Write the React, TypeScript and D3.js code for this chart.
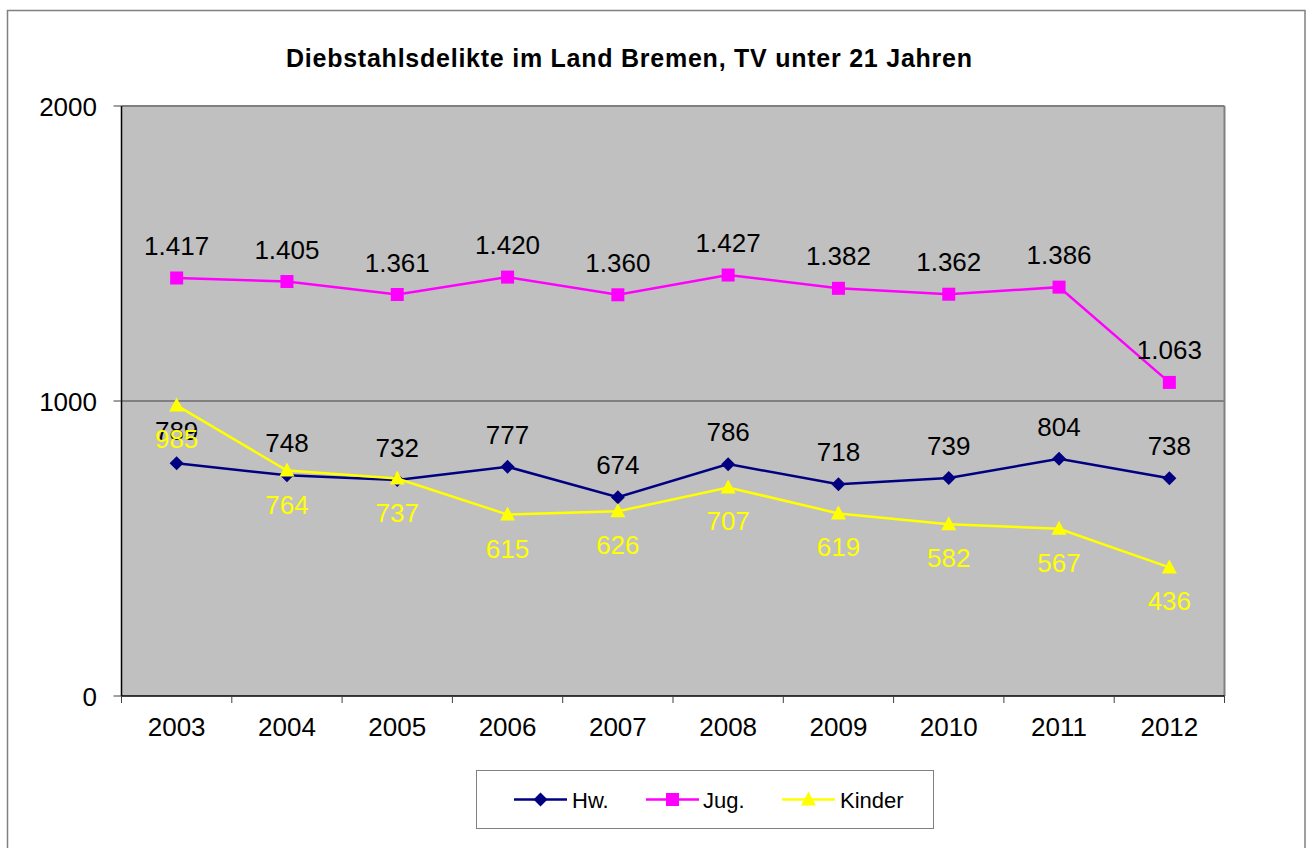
import React from "react";
import * as d3 from "d3";

// data
const years = ["2003", "2004", "2005", "2006", "2007", "2008", "2009", "2010", "2011", "2012"];
const hw = [789, 748, 732, 777, 674, 786, 718, 739, 804, 738];
const jug = [1417, 1405, 1361, 1420, 1360, 1427, 1382, 1362, 1386, 1063];
const kinder = [985, 764, 737, 615, 626, 707, 619, 582, 567, 436];
const yTicks = [0, 1000, 2000];

const title = "Diebstahlsdelikte im Land Bremen, TV unter 21 Jahren";

const de = d3.formatLocale({ decimal: ",", thousands: ".", grouping: [3], currency: ["", " €"] });
const fmt = de.format(",d");

const series = [
  { name: "Hw.", values: hw, color: "#000080", marker: "diamond", labelColor: "#000", above: true },
  { name: "Jug.", values: jug, color: "#FF00FF", marker: "square", labelColor: "#000", above: true },
  { name: "Kinder", values: kinder, color: "#FFFF00", marker: "triangle", labelColor: "#FFFF00", above: false },
];

const W = 1306;
const H = 848;
const plot = { left: 121.5, right: 1224.5, top: 106, bottom: 696 };
const font = "'Liberation Sans', Arial, sans-serif";

const Marker = ({ type, x, y, color }) => {
  if (type === "diamond") {
    return <path d={`M${x},${y - 7}L${x + 7},${y}L${x},${y + 7}L${x - 7},${y}Z`} fill={color} />;
  }
  if (type === "square") {
    return <rect x={x - 6.5} y={y - 6.5} width={13} height={13} fill={color} />;
  }
  return <path d={`M${x},${y - 8}L${x + 7.5},${y + 6}L${x - 7.5},${y + 6}Z`} fill={color} />;
};

export default function App() {
  const x = d3.scaleBand().domain(years).range([plot.left, plot.right]).paddingInner(0).paddingOuter(0);
  const y = d3.scaleLinear().domain([0, 2000]).range([plot.bottom, plot.top]);
  const cx = (yr) => x(yr) + x.bandwidth() / 2;

  const line = d3
    .line()
    .x((d, i) => cx(years[i]))
    .y((d) => y(d));

  const boundaries = years.map((yr) => x(yr)).concat([plot.right]);

  const legendItems = [
    { lx: 514, tx: 572 },
    { lx: 646, tx: 703 },
    { lx: 782, tx: 840 },
  ];

  return (
    <svg width={W} height={H} style={{ position: "absolute", left: 0, top: 0, background: "#fff" }} fontFamily={font}>
      {/* outer chart border */}
      <rect x={7.5} y={10.5} width={1297.5} height={860} fill="#fff" stroke="#808080" strokeWidth={1.5} />

      <text x={286} y={66.5} fontSize={25} fontWeight="bold" textLength={686} lengthAdjust="spacing">
        {title}
      </text>

      {/* plot area */}
      <rect x={plot.left} y={plot.top} width={plot.right - plot.left} height={plot.bottom - plot.top} fill="#C0C0C0" />
      {yTicks
        .filter((t) => t > 0 && t < 2000)
        .map((t) => (
          <line key={t} x1={plot.left} x2={plot.right} y1={y(t)} y2={y(t)} stroke="#404040" strokeWidth={1} />
        ))}
      <line x1={plot.left} x2={plot.right} y1={plot.top} y2={plot.top} stroke="#808080" strokeWidth={2} />
      <line x1={plot.right} x2={plot.right} y1={plot.top} y2={plot.bottom} stroke="#808080" strokeWidth={2} />
      <line x1={plot.left} x2={plot.left} y1={plot.top} y2={plot.bottom} stroke="#000" strokeWidth={1.5} />
      <line x1={plot.left} x2={plot.right} y1={plot.bottom} y2={plot.bottom} stroke="#000" strokeWidth={1.5} />

      {/* y axis */}
      {yTicks.map((t) => (
        <g key={t}>
          <line x1={plot.left - 8} x2={plot.left} y1={y(t)} y2={y(t)} stroke="#404040" strokeWidth={1} />
          <text x={97} y={y(t) + 9.5} textAnchor="end" fontSize={26}>
            {t}
          </text>
        </g>
      ))}

      {/* x axis */}
      {boundaries.map((b, i) => (
        <line key={i} x1={b} x2={b} y1={plot.bottom} y2={plot.bottom + 7} stroke="#404040" strokeWidth={1} />
      ))}
      {years.map((yr) => (
        <text key={yr} x={cx(yr)} y={736} textAnchor="middle" fontSize={26}>
          {yr}
        </text>
      ))}

      {/* series */}
      {series.map((s) => (
        <g key={s.name}>
          <path d={line(s.values)} fill="none" stroke={s.color} strokeWidth={2.5} />
          {s.values.map((v, i) => (
            <Marker key={i} type={s.marker} x={cx(years[i])} y={y(v)} color={s.color} />
          ))}
        </g>
      ))}
      {series.map((s) => (
        <g key={s.name + "-labels"}>
          {s.values.map((v, i) => (
            <text
              key={i}
              x={cx(years[i])}
              y={s.above ? y(v) - 23 : y(v) + 43}
              textAnchor="middle"
              fontSize={26}
              fill={s.labelColor}
            >
              {fmt(v)}
            </text>
          ))}
        </g>
      ))}

      {/* legend */}
      <rect x={476.5} y={770.5} width={457} height={58} fill="#fff" stroke="#808080" strokeWidth={1} />
      {series.map((s, i) => {
        const it = legendItems[i];
        const ly = 799.5;
        return (
          <g key={s.name + "-legend"}>
            <line x1={it.lx} x2={it.lx + 53} y1={ly} y2={ly} stroke={s.color} strokeWidth={2.5} />
            <Marker type={s.marker} x={it.lx + 26.5} y={ly} color={s.color} />
            <text x={it.tx} y={ly + 8} fontSize={22}>
              {s.name}
            </text>
          </g>
        );
      })}
    </svg>
  );
}
